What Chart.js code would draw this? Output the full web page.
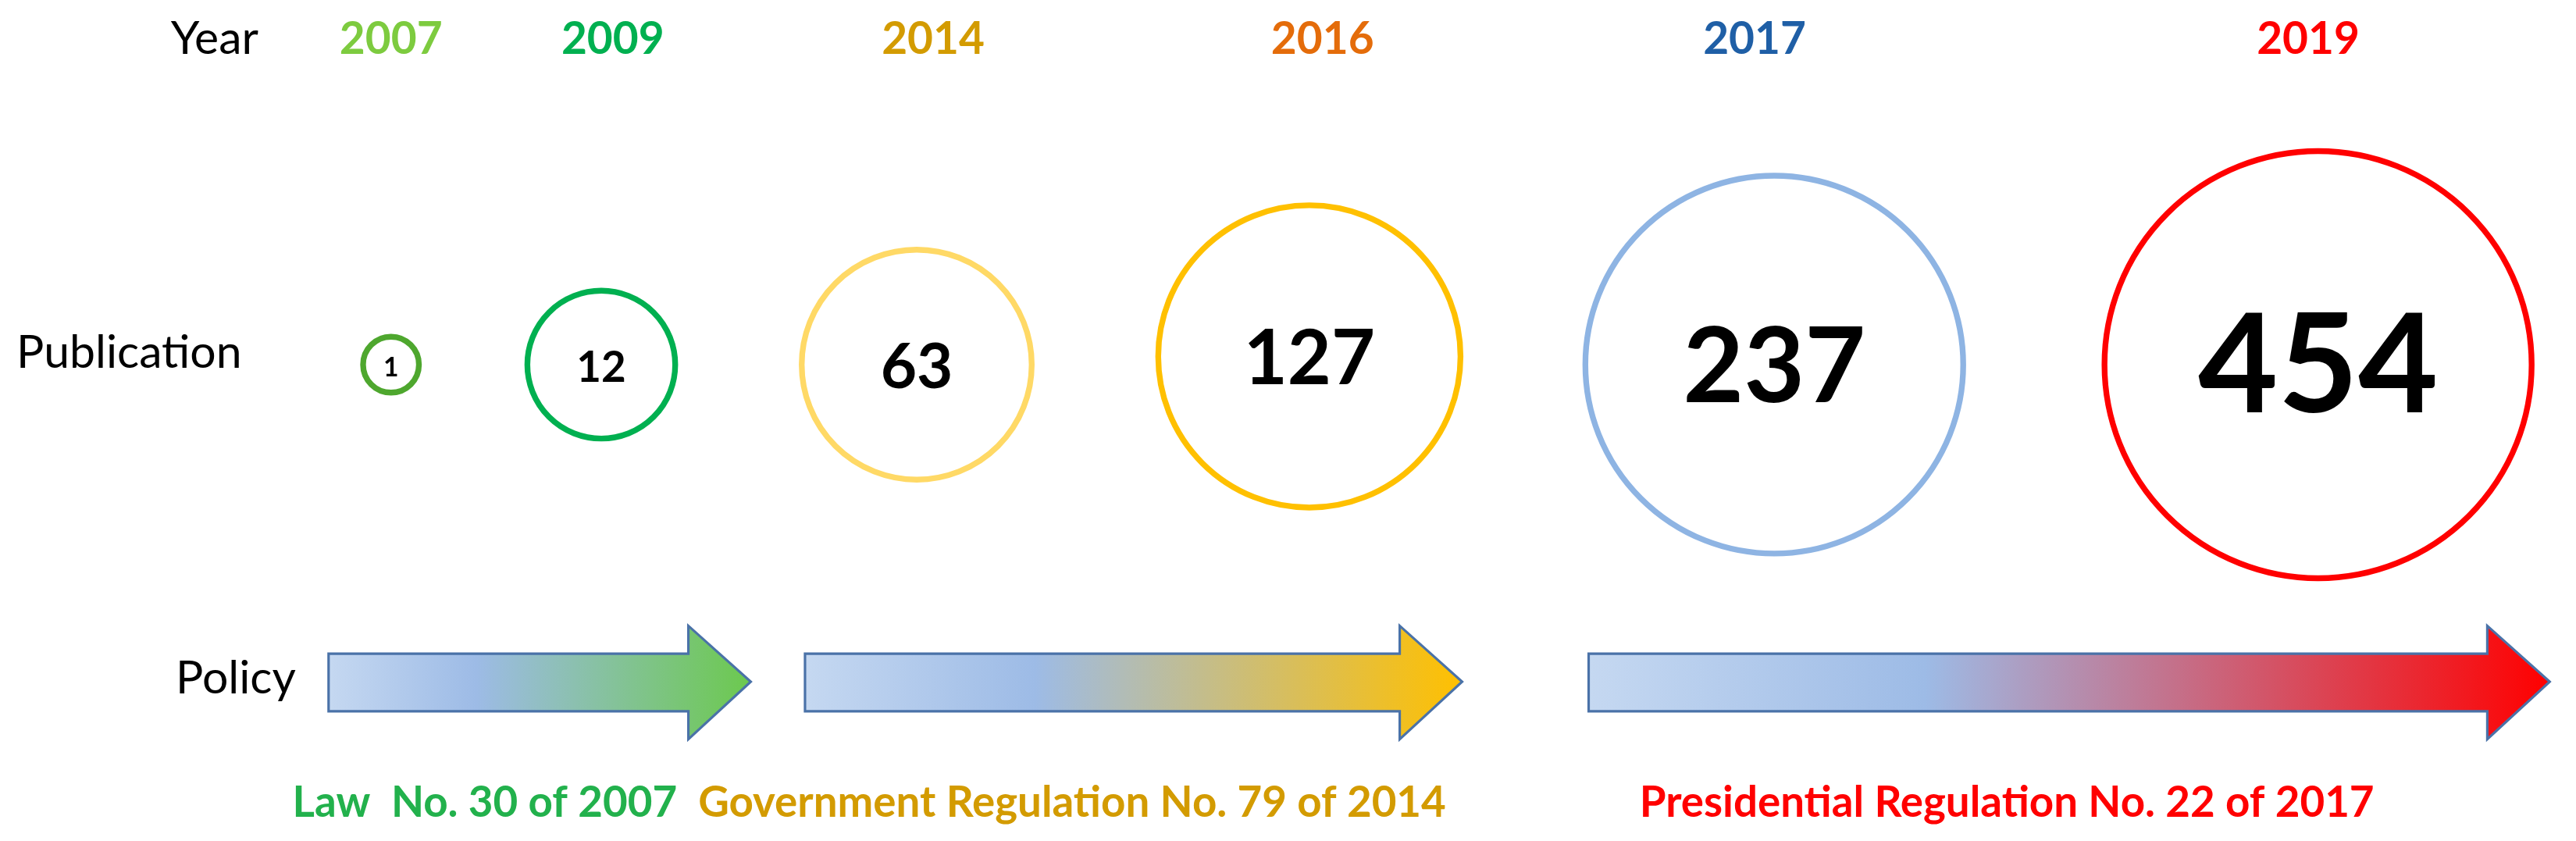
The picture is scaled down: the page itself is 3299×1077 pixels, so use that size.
<!DOCTYPE html><html><head><meta charset="utf-8">
<script src="https://cdn.jsdelivr.net/npm/chart.js@4"></script>
<style>html,body{margin:0;padding:0;background:#fff}canvas{display:block}</style></head><body>
<canvas id="c" width="3299" height="1077"></canvas>
<script>
const years = ["2007","2009","2014","2016","2017","2019"];
const publications = [1,12,63,127,237,454];
const policies = ["Law  No. 30 of 2007","Government Regulation No. 79 of 2014","Presidential Regulation No. 22 of 2017"];
const rowLabels = ["Year","Publication","Policy"];

const S = 3299/1568;
const xPos = [238,366,558,797,1080,1411];
const radii = [17,45,70,92,115,130];
const yearX = [238,373,568,805,1068,1405];
const yearColors = ["#7DCB3F","#00B050","#D39B00","#E46C0A","#1F5FA6","#FF0000"];
const ringColors = ["#4EA72E","#00B050","#FFD966","#FFC000","#8EB4E3","#FF0000"];
const numSizes = [16,26,38,46,64,84];
const arrows = [[200,457,"#6CC94E"],[490,890,"#FFC000"],[967,1552,"#FF0000"]];
const policyX = [178,425,998];
const policyColors = ["#22B14C","#D39B00","#FF0000"];

const overlay = {id:'ov', afterDraw(ch){
  const c=ch.ctx, xs=ch.scales.x, ys=ch.scales.y;
  const X=v=>xs.getPixelForValue(v), Y=v=>ys.getPixelForValue(v);
  c.save();
  c.textBaseline='middle';
  c.fillStyle='#000'; c.font=`${28*S}px Lato`; c.textAlign='left';
  c.fillText(rowLabels[0],X(104),Y(24));
  c.fillText(rowLabels[1],X(10),Y(215));
  c.fillText(rowLabels[2],X(107),Y(413));
  c.font=`bold ${27*S}px Lato`; c.textAlign='center';
  years.forEach((y,i)=>{c.fillStyle=yearColors[i];c.fillText(y,X(yearX[i]),Y(24));});
  c.fillStyle='#000';
  publications.forEach((p,i)=>{c.font=`bold ${numSizes[i]*S}px Lato`;c.fillText(String(p),X(xPos[i]),Y(i==3?219:224));});
  arrows.forEach(([a,b,col])=>{
    const x0=X(a),x1=X(b),hx=X(b-38);
    const g=c.createLinearGradient(x0,0,x1,0);
    g.addColorStop(0,'#C5D8F1');g.addColorStop(0.35,'#9DBBE6');g.addColorStop(1,col);
    c.beginPath();
    c.moveTo(x0,Y(398));c.lineTo(hx,Y(398));c.lineTo(hx,Y(381));c.lineTo(x1,Y(415));
    c.lineTo(hx,Y(450));c.lineTo(hx,Y(433));c.lineTo(x0,Y(433));c.closePath();
    c.fillStyle=g;c.fill();c.strokeStyle='#4A72A8';c.lineWidth=1.5*S;c.stroke();
  });
  c.font=`bold ${26*S}px Lato`; c.textAlign='left';
  policies.forEach((t,i)=>{c.fillStyle=policyColors[i];c.fillText(t,X(policyX[i]),Y(489));});
  c.restore();
}};

new Chart(document.getElementById('c'),{
  type:'bubble',
  data:{datasets:[{
    data:publications.map((p,i)=>({x:xPos[i],y:i==3?217:222,r:radii[i]*S,v:p})),
    backgroundColor:'rgba(255,255,255,0)',
    borderColor:ringColors, borderWidth:3.5*S, hoverRadius:0, clip:false
  }]},
  options:{responsive:false,animation:false,events:[],
    layout:{padding:0,autoPadding:false},
    plugins:{legend:{display:false},tooltip:{enabled:false}},
    scales:{x:{type:'linear',min:0,max:1568,display:false},
            y:{type:'linear',min:0,max:512,reverse:true,display:false}}},
  plugins:[overlay]
});
</script></body></html>
